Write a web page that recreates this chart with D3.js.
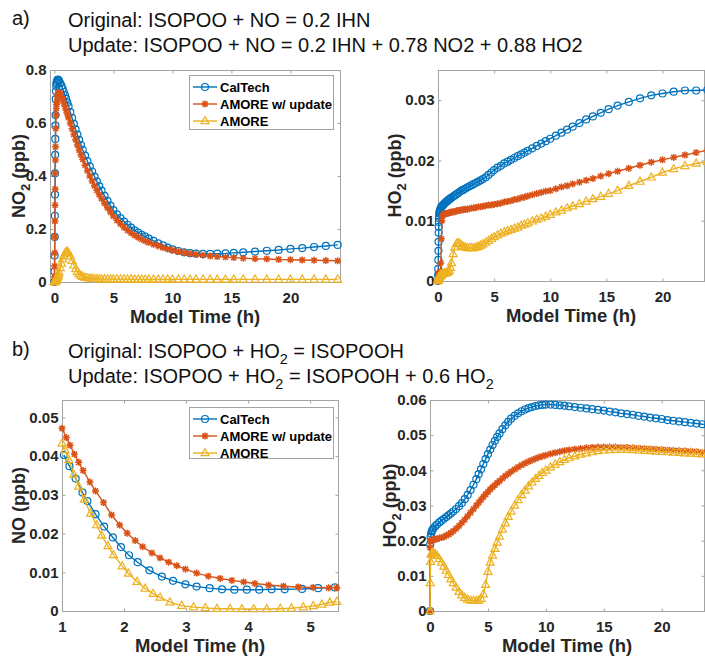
<!DOCTYPE html>
<html>
<head>
<meta charset="utf-8">
<script src="https://cdn.jsdelivr.net/npm/d3@7"></script>
<style>
  body { margin: 0; background: #fff; }
  svg { display: block; font-family: Arial, "Liberation Sans", sans-serif; }
</style>
</head>
<body>
<svg id="chart" width="705" height="659"></svg>
<script>
// ---- data ----
const seriesNames = ['CalTech', 'AMORE w/ update', 'AMORE'];
const colors = ['#0072BD', '#D95319', '#EDB120'];

// a) model time grid, shared by both top panels (h)
const tA = [0, 0.01, 0.02, 0.03, 0.04, 0.05, 0.06, 0.07, 0.08, 0.09, 0.1, 0.12, 0.14, 0.16, 0.18, 0.2,
  0.25, 0.3, 0.35, 0.4,
  0.5, 0.6, 0.7, 0.8, 0.9, 1.0, 1.1, 1.2,
  1.35, 1.5, 1.65, 1.8, 1.95, 2.1, 2.25, 2.4,
  2.6, 2.8, 3.0, 3.2, 3.4, 3.6, 3.8, 4.0,
  4.25, 4.5, 4.75, 5.0,
  5.3, 5.6, 5.9, 6.2, 6.5, 6.8, 7.1, 7.4, 7.7, 8.0,
  8.4, 8.8, 9.2, 9.6, 10.0,
  10.5, 11.0, 11.5, 12.0,
  12.6, 13.2, 13.8,
  14.5, 15.2, 16.0,
  17, 18, 19, 20, 21, 22, 23, 24];

// a) NO2 (ppb)
const aNO2Cal = [0, 0.04, 0.10, 0.17, 0.25, 0.33, 0.41, 0.48, 0.54, 0.59, 0.63, 0.69, 0.72, 0.74, 0.75, 0.755,
  0.762, 0.764, 0.762, 0.758,
  0.750, 0.740, 0.729, 0.717, 0.704, 0.691, 0.677, 0.663,
  0.641, 0.619, 0.597, 0.576, 0.556, 0.536, 0.517, 0.499,
  0.477, 0.456, 0.436, 0.417, 0.398, 0.380, 0.362, 0.345,
  0.325, 0.306, 0.288, 0.271,
  0.255, 0.241, 0.228, 0.216, 0.205, 0.195, 0.186, 0.178, 0.171, 0.164,
  0.155, 0.146, 0.138, 0.130, 0.123,
  0.117, 0.112, 0.109, 0.107,
  0.106, 0.106, 0.107,
  0.108, 0.110, 0.112,
  0.115, 0.118, 0.121, 0.125, 0.128, 0.132, 0.136, 0.140];
const aNO2Upd = [0, 0.02, 0.06, 0.11, 0.17, 0.23, 0.29, 0.35, 0.41, 0.46, 0.51, 0.58, 0.63, 0.655, 0.67, 0.68,
  0.70, 0.71, 0.714, 0.715,
  0.710, 0.700, 0.688, 0.675, 0.662, 0.648, 0.634, 0.620,
  0.599, 0.578, 0.557, 0.537, 0.517, 0.498, 0.480, 0.463,
  0.441, 0.420, 0.400, 0.381, 0.363, 0.346, 0.330, 0.315,
  0.297, 0.280, 0.264, 0.249,
  0.233, 0.219, 0.206, 0.195, 0.185, 0.176, 0.168, 0.161, 0.155, 0.149,
  0.142, 0.136, 0.130, 0.125, 0.120,
  0.115, 0.111, 0.107, 0.104,
  0.101, 0.098, 0.096,
  0.094, 0.092, 0.090,
  0.088, 0.087, 0.085, 0.084, 0.083, 0.082, 0.081, 0.080];
const aNO2Amo = [0, 0.0005, 0.001, 0.0015, 0.002, 0.0025, 0.003, 0.0035, 0.004, 0.0045, 0.005, 0.006, 0.007, 0.008, 0.009, 0.010,
  0.015, 0.021, 0.028, 0.036,
  0.053, 0.070, 0.086, 0.099, 0.108, 0.114, 0.115, 0.110,
  0.097, 0.080, 0.063, 0.049, 0.038, 0.030, 0.024, 0.020,
  0.017, 0.015, 0.014, 0.013, 0.012, 0.012, 0.011, 0.011,
  0.011, 0.011, 0.011, 0.011,
  0.011, 0.011, 0.011, 0.011, 0.011, 0.010, 0.010, 0.010, 0.010, 0.010,
  0.010, 0.010, 0.010, 0.010, 0.010,
  0.010, 0.010, 0.010, 0.010,
  0.010, 0.010, 0.010,
  0.010, 0.010, 0.010,
  0.010, 0.010, 0.010, 0.010, 0.010, 0.010, 0.010, 0.010];

// a) HO2 (ppb)
const aHO2Cal = [0, 0.001, 0.002, 0.0035, 0.005, 0.0065, 0.008, 0.009, 0.0098, 0.0104, 0.0108, 0.0112, 0.0114, 0.0116, 0.0117, 0.0118,
  0.0121, 0.0123, 0.0124, 0.0125,
  0.0127, 0.0129, 0.0131, 0.0132, 0.0134, 0.0135, 0.0137, 0.0138,
  0.0140, 0.0142, 0.0144, 0.0146, 0.0148, 0.0150, 0.0151, 0.0153,
  0.0155, 0.0157, 0.0159, 0.0161, 0.0163, 0.0165, 0.0167, 0.0169,
  0.0172, 0.0176, 0.0180, 0.0184,
  0.0188, 0.0191, 0.0195, 0.0198, 0.0201, 0.0204, 0.0207, 0.0210, 0.0213, 0.0216,
  0.0220, 0.0224, 0.0228, 0.0232, 0.0236,
  0.0241, 0.0246, 0.0251, 0.0256,
  0.0262, 0.0268, 0.0273,
  0.0279, 0.0285, 0.0291,
  0.0297, 0.0303, 0.0308, 0.0311, 0.0314, 0.0316, 0.0316, 0.0317];
const aHO2Upd = [0, 0.0003, 0.0006, 0.0008, 0.0010, 0.0011, 0.0012, 0.0012, 0.0012, 0.0012, 0.0012, 0.0012, 0.0013, 0.0013, 0.0014, 0.0015,
  0.0030, 0.0070, 0.0100, 0.0108,
  0.0110, 0.0111, 0.0112, 0.0112, 0.0113, 0.0113, 0.0114, 0.0114,
  0.0115, 0.0115, 0.0116, 0.0117, 0.0117, 0.0118, 0.0118, 0.0119,
  0.0119, 0.0120, 0.0121, 0.0121, 0.0122, 0.0123, 0.0123, 0.0124,
  0.0125, 0.0126, 0.0126, 0.0127,
  0.0128, 0.0129, 0.0131, 0.0132, 0.0133, 0.0135, 0.0136, 0.0138, 0.0139, 0.0141,
  0.0143, 0.0145, 0.0147, 0.0149, 0.0150,
  0.0153, 0.0156, 0.0158, 0.0161,
  0.0164, 0.0167, 0.0170,
  0.0174, 0.0178, 0.0182,
  0.0187, 0.0192, 0.0197, 0.0201, 0.0205, 0.0209, 0.0213, 0.0217];
const aHO2Amo = [0, 0.0001, 0.0002, 0.0003, 0.0004, 0.0004, 0.0005, 0.0005, 0.0006, 0.0006, 0.0007, 0.0007, 0.0008, 0.0008, 0.0009, 0.0009,
  0.0010, 0.0011, 0.0011, 0.0012,
  0.0012, 0.0013, 0.0013, 0.0014, 0.0015, 0.0017, 0.0022, 0.0030,
  0.0045, 0.0056, 0.0062, 0.0063, 0.0062, 0.0059, 0.0057, 0.0056,
  0.0055, 0.0055, 0.0055, 0.0055, 0.0056, 0.0057, 0.0059, 0.0061,
  0.0064, 0.0067, 0.0070, 0.0073,
  0.0076, 0.0079, 0.0081, 0.0083, 0.0085, 0.0087, 0.0089, 0.0092, 0.0094, 0.0096,
  0.0099, 0.0102, 0.0104, 0.0107, 0.0110,
  0.0114, 0.0117, 0.0121, 0.0124,
  0.0128, 0.0132, 0.0136,
  0.0140, 0.0145, 0.0150,
  0.0158, 0.0165, 0.0172, 0.0180, 0.0186, 0.0191, 0.0195, 0.0198];

// b) NO (ppb), each run has its own output times
const tNOCal = [1.03, 1.12, 1.22, 1.33, 1.41, 1.54, 1.68, 1.82, 1.95, 2.08, 2.22, 2.41, 2.61, 2.79, 2.99,
  3.17, 3.38, 3.58, 3.78, 3.98, 4.18, 4.38, 4.59, 4.87, 5.13, 5.40];
const bNOCal = [0.0403, 0.0374, 0.0342, 0.0306, 0.0284, 0.0250, 0.0218, 0.0190, 0.0165, 0.0144, 0.0126, 0.0105, 0.0089, 0.0078, 0.0069,
  0.0063, 0.0059, 0.0056, 0.0055, 0.0055, 0.0055, 0.0056, 0.0056, 0.0057, 0.0059, 0.0061];
const tNOUpd = [1.0, 1.07, 1.13, 1.2, 1.27, 1.34, 1.45, 1.54, 1.67, 1.8, 1.93, 2.05, 2.18, 2.3, 2.45,
  2.58, 2.72, 2.85, 2.99, 3.17, 3.36, 3.55, 3.74, 3.93, 4.11, 4.33, 4.57, 4.81, 5.05, 5.3, 5.43];
const bNOUpd = [0.0472, 0.0448, 0.0428, 0.0405, 0.0384, 0.0363, 0.0333, 0.0310, 0.0280, 0.0248, 0.0222, 0.0201, 0.0182, 0.0166, 0.0150,
  0.0137, 0.0126, 0.0117, 0.0108, 0.0098, 0.0090, 0.0084, 0.0079, 0.0075, 0.0071, 0.0067, 0.0064, 0.0062, 0.0061, 0.0060, 0.0060];
const tNOAmo = [1.0, 1.05, 1.11, 1.19, 1.27, 1.36, 1.46, 1.56, 1.64, 1.74, 1.83, 1.97, 2.07, 2.21, 2.34,
  2.47, 2.58, 2.74, 2.93, 3.12, 3.31, 3.5, 3.71, 3.9, 4.09, 4.3, 4.52, 4.7, 4.89, 5.05, 5.19, 5.32, 5.43];
const bNOAmo = [0.0433, 0.0416, 0.0390, 0.0353, 0.0322, 0.0288, 0.0252, 0.0222, 0.0195, 0.0168, 0.0145, 0.0116, 0.0097, 0.0076, 0.0058,
  0.0045, 0.0035, 0.0023, 0.0014, 0.0010, 0.0008, 0.0006, 0.0006, 0.0005, 0.0005, 0.0005, 0.0006, 0.0007, 0.0010, 0.0013, 0.0017, 0.0022, 0.0024];

// b) HO2 (ppb)
const tB = [0, 0.02, 0.05, 0.1, 0.15, 0.2, 0.3,
  0.45, 0.6, 0.8,
  1.0, 1.2, 1.4, 1.6, 1.8, 2.0,
  2.25, 2.5, 2.75, 3.0, 3.25, 3.5, 3.75, 4.0,
  4.2, 4.4, 4.6, 4.8, 5.0, 5.2, 5.4, 5.6, 5.8, 6.0,
  6.25, 6.5, 6.75, 7.0,
  7.3, 7.6, 7.9, 8.2, 8.5, 8.8, 9.1, 9.4, 9.7, 10.0,
  10.4, 10.8, 11.2, 11.6, 12.0,
  12.5, 13, 13.5, 14, 14.5, 15, 15.5, 16, 16.5, 17, 17.5, 18, 18.5, 19, 19.5, 20, 20.5, 21, 21.5, 22, 22.5, 23, 23.5, 24];
const bHO2Cal = [0, 0.019, 0.021, 0.022, 0.0226, 0.023, 0.0235,
  0.0241, 0.0246, 0.0252,
  0.0257, 0.0262, 0.0267, 0.0272, 0.0277, 0.0283,
  0.0290, 0.0298, 0.0307, 0.0318, 0.0330, 0.0344, 0.0359, 0.0375,
  0.0389, 0.0403, 0.0418, 0.0432, 0.0446, 0.0459, 0.0472, 0.0484, 0.0495, 0.0505,
  0.0517, 0.0528, 0.0538, 0.0547,
  0.0555, 0.0562, 0.0568, 0.0573, 0.0577, 0.0580, 0.0583, 0.0585, 0.0586, 0.0587,
  0.0587, 0.0586, 0.0585, 0.0584, 0.0582,
  0.0580, 0.0578, 0.0576, 0.0574, 0.0572, 0.0570, 0.0567, 0.0565, 0.0562, 0.0560, 0.0558, 0.0555,
  0.0553, 0.0550, 0.0548, 0.0546, 0.0543, 0.0541, 0.0539, 0.0537, 0.0535, 0.0533, 0.0531, 0.0529];
const bHO2Upd = [0, 0.018, 0.0198, 0.0200, 0.0201, 0.0202, 0.0203,
  0.0204, 0.0205, 0.0207,
  0.0209, 0.0211, 0.0214, 0.0218, 0.0222, 0.0227,
  0.0234, 0.0242, 0.0251, 0.0260, 0.0270, 0.0280, 0.0290, 0.0300,
  0.0308, 0.0316, 0.0324, 0.0332, 0.0339, 0.0346, 0.0352, 0.0358, 0.0364, 0.0370,
  0.0377, 0.0384, 0.0390, 0.0396,
  0.0403, 0.0409, 0.0415, 0.0420, 0.0425, 0.0429, 0.0433, 0.0437, 0.0440, 0.0443,
  0.0447, 0.0450, 0.0453, 0.0456, 0.0458,
  0.0460, 0.0462, 0.0464, 0.0465, 0.0466, 0.0466, 0.0466, 0.0466, 0.0465, 0.0465, 0.0464, 0.0463,
  0.0462, 0.0461, 0.0460, 0.0459, 0.0458, 0.0457, 0.0456, 0.0455, 0.0454, 0.0453, 0.0451, 0.0450];
const bHO2Amo = [0, 0.008, 0.014, 0.016, 0.0165, 0.0166, 0.0165,
  0.0162, 0.0157, 0.0148,
  0.0138, 0.0127, 0.0115, 0.0103, 0.0091, 0.0080,
  0.0067, 0.0055, 0.0045, 0.0038, 0.0033, 0.0030, 0.0029, 0.0029,
  0.0030, 0.0035, 0.0048, 0.0075, 0.0112, 0.0138, 0.0158, 0.0177, 0.0195, 0.0212,
  0.0232, 0.0250, 0.0268, 0.0283,
  0.0300, 0.0316, 0.0330, 0.0343, 0.0355, 0.0366, 0.0376, 0.0385, 0.0393, 0.0400,
  0.0409, 0.0417, 0.0424, 0.0430, 0.0435,
  0.0440, 0.0445, 0.0449, 0.0452, 0.0455, 0.0457, 0.0458, 0.0459, 0.0459, 0.0459, 0.0458, 0.0457,
  0.0456, 0.0455, 0.0454, 0.0453, 0.0452, 0.0451, 0.0450, 0.0449, 0.0448, 0.0447, 0.0446, 0.0445];

// tick labels
const hourTicks = [0, 5, 10, 15, 20];
const hourTicksB = [1, 2, 3, 4, 5];
const no2Ticks = [0, 0.2, 0.4, 0.6, 0.8];
const ho2TicksA = [0, 0.01, 0.02, 0.03];
const noTicks = [0, 0.01, 0.02, 0.03, 0.04, 0.05];
const ho2TicksB = [0, 0.01, 0.02, 0.03, 0.04, 0.05, 0.06];

// ---- drawing ----
const svg = d3.select('#chart');
const axisColor = '#a3a3a3';
const textColor = '#262626';
const markers = ['circle', 'star', 'tri'];

function richText(el, parts, size) {
  let shifted = false;
  parts.forEach(p => {
    const sub = typeof p !== 'string';
    const ts = el.append('tspan').text(sub ? p.sub : p);
    if (sub) { ts.attr('font-size', size * 0.72).attr('dy', size * 0.3); shifted = true; }
    else if (shifted) { ts.attr('dy', -size * 0.3); shifted = false; }
  });
}

function drawMarker(g, kind, color, cx, cy) {
  if (kind === 'circle') {
    g.append('circle').attr('cx', cx).attr('cy', cy).attr('r', 3.5)
      .attr('fill', 'none').attr('stroke', color).attr('stroke-width', 1.2);
  } else if (kind === 'star') {
    g.append('path').attr('transform', `translate(${cx},${cy})`)
      .attr('d', 'M-3.5,0H3.5M0,-3.5V3.5M-2.6,-2.6L2.6,2.6M-2.6,2.6L2.6,-2.6')
      .attr('stroke', color).attr('stroke-width', 1.5).attr('fill', 'none');
  } else {
    g.append('path').attr('transform', `translate(${cx},${cy})`)
      .attr('d', 'M0,-4.4L4,2.7L-4,2.7Z')
      .attr('stroke', color).attr('stroke-width', 1.2).attr('fill', 'none');
  }
}

function drawPanel(p) {
  const x = d3.scaleLinear().domain(p.xDomain).range([p.left, p.right]);
  const y = d3.scaleLinear().domain(p.yDomain).range([p.bottom, p.top]);
  const g = svg.append('g');
  const fmt = d3.format('~g');

  // box
  g.append('rect').attr('x', p.left + 0.5).attr('y', p.top + 0.5)
    .attr('width', p.right - p.left).attr('height', p.bottom - p.top)
    .attr('fill', 'none').attr('stroke', axisColor).attr('stroke-width', 1);

  const styleAxis = a => {
    a.select('.domain').remove();
    a.selectAll('.tick line').attr('stroke', axisColor);
    a.selectAll('.tick text').attr('fill', textColor)
      .attr('font-size', 15).attr('font-weight', 'bold')
      .attr('font-family', 'Arial, "Liberation Sans", sans-serif');
  };

  g.append('g').attr('transform', `translate(0,${p.bottom + 0.5})`)
    .call(d3.axisBottom(x).tickValues(p.xTicks).tickSizeInner(-3).tickSizeOuter(0)
      .tickPadding(10).tickFormat(fmt)).call(styleAxis);
  g.append('g').attr('transform', `translate(0,${p.top + 0.5})`)
    .call(d3.axisTop(x).tickValues(p.xTicks).tickSizeInner(-3).tickSizeOuter(0)
      .tickFormat('')).call(styleAxis);
  g.append('g').attr('transform', `translate(${p.left + 0.5},0)`)
    .call(d3.axisLeft(y).tickValues(p.yTicks).tickSizeInner(-3).tickSizeOuter(0)
      .tickPadding(4).tickFormat(fmt)).call(styleAxis);
  g.append('g').attr('transform', `translate(${p.right + 0.5},0)`)
    .call(d3.axisRight(y).tickValues(p.yTicks).tickSizeInner(-3).tickSizeOuter(0)
      .tickFormat('')).call(styleAxis);

  // series: line + markers
  const line = d3.line().x(d => x(d[0])).y(d => y(d[1]));
  p.series.forEach((s, k) => {
    const pts = s.t.map((t, i) => [t, s.v[i]]);
    const sg = g.append('g');
    sg.append('path').attr('d', line(pts)).attr('fill', 'none')
      .attr('stroke', colors[k]).attr('stroke-width', 1.4);
    pts.forEach(d => drawMarker(sg, markers[k], colors[k], x(d[0]), y(d[1])));
  });

  // x label
  g.append('text').attr('x', (p.left + p.right) / 2).attr('y', p.bottom + 41)
    .attr('text-anchor', 'middle').attr('font-size', 18.5).attr('font-weight', 'bold')
    .attr('fill', textColor).text('Model Time (h)');

  // y label
  const yl = g.append('text')
    .attr('transform', `translate(${p.ylabelX},${(p.top + p.bottom) / 2}) rotate(-90)`)
    .attr('text-anchor', 'middle').attr('font-size', 18).attr('font-weight', 'bold')
    .attr('fill', textColor);
  richText(yl, p.ylabel, 18);

  // legend
  if (p.legend) {
    const L = p.legend;
    const lg = g.append('g');
    lg.append('rect').attr('x', L.x + 0.5).attr('y', L.y + 0.5).attr('width', L.w).attr('height', L.h)
      .attr('fill', '#fff').attr('stroke', axisColor);
    seriesNames.forEach((name, k) => {
      const cy = L.y + 12 + k * 17;
      lg.append('line').attr('x1', L.x + 4).attr('x2', L.x + 28).attr('y1', cy).attr('y2', cy)
        .attr('stroke', colors[k]).attr('stroke-width', 1.4);
      drawMarker(lg, markers[k], colors[k], L.x + 16, cy);
      lg.append('text').attr('x', L.x + 31).attr('y', cy).attr('dy', '0.36em')
        .attr('font-size', 13).attr('font-weight', 'bold').attr('fill', '#000').text(name);
    });
  }
}

// titles
function title(x, y, parts, size) {
  const t = svg.append('text').attr('x', x).attr('y', y).attr('font-size', size).attr('fill', '#111');
  richText(t, parts, size);
}
title(12, 25, ['a)'], 20);
title(68, 27, ['Original: ISOPOO + NO = 0.2 IHN'], 20);
title(68, 52, ['Update: ISOPOO + NO = 0.2 IHN + 0.78 NO2 + 0.88 HO2'], 20);
title(12, 356, ['b)'], 20);
title(68, 358, ['Original: ISOPOO + HO', {sub: '2'}, ' = ISOPOOH'], 20);
title(68, 383, ['Update: ISOPOO + HO', {sub: '2'}, ' = ISOPOOH + 0.6 HO', {sub: '2'}], 20);

drawPanel({
  left: 50, right: 340, top: 70, bottom: 282,
  xDomain: [-0.37, 24.2], yDomain: [0, 0.8], xTicks: hourTicks, yTicks: no2Ticks,
  ylabel: ['NO', {sub: '2'}, ' (ppb)'], ylabelX: 25,
  series: [{t: tA, v: aNO2Cal}, {t: tA, v: aNO2Upd}, {t: tA, v: aNO2Amo}],
  legend: {x: 189, y: 75, w: 144, h: 54}
});
drawPanel({
  left: 438, right: 704, top: 70, bottom: 281,
  xDomain: [0, 23.7], yDomain: [0, 0.035], xTicks: hourTicks, yTicks: ho2TicksA,
  ylabel: ['HO', {sub: '2'}, ' (ppb)'], ylabelX: 401,
  series: [{t: tA, v: aHO2Cal}, {t: tA, v: aHO2Upd}, {t: tA, v: aHO2Amo}]
});
drawPanel({
  left: 62, right: 338, top: 400, bottom: 611,
  xDomain: [1, 5.45], yDomain: [0, 0.0545], xTicks: hourTicksB, yTicks: noTicks,
  ylabel: ['NO (ppb)'], ylabelX: 25,
  series: [{t: tNOCal, v: bNOCal}, {t: tNOUpd, v: bNOUpd}, {t: tNOAmo, v: bNOAmo}],
  legend: {x: 189, y: 407, w: 144, h: 51}
});
drawPanel({
  left: 430, right: 704, top: 400, bottom: 611,
  xDomain: [0, 23.65], yDomain: [0, 0.06], xTicks: hourTicks, yTicks: ho2TicksB,
  ylabel: ['HO', {sub: '2'}, ' (ppb)'], ylabelX: 396,
  series: [{t: tB, v: bHO2Cal}, {t: tB, v: bHO2Upd}, {t: tB, v: bHO2Amo}]
});
</script>
</body>
</html>
